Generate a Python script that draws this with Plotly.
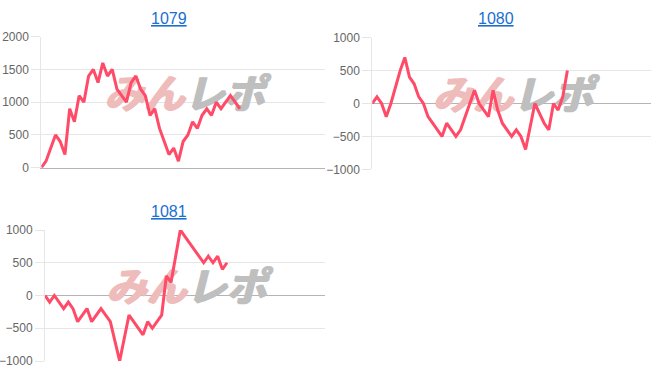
import plotly.graph_objects as go

# ---- data ----
titles = ["1079", "1080", "1081"]
values_1079 = [0, 100, 300, 500, 400, 200, 900, 700, 1100, 1000,
               1400, 1500, 1300, 1600, 1400, 1500, 1200, 1100, 1000, 1300,
               1400, 1200, 1100, 800, 900, 600, 400, 200, 300, 100,
               400, 500, 700, 600, 800, 900, 800, 1000, 900, 1000,
               1100, 1000, 900]
values_1080 = [0, 100, 0, -200, 0, 250, 500, 700, 400, 300,
               100, 0, -200, -300, -400, -500, -300, -400, -500, -400,
               -200, 0, 200, 0, -100, -200, 200, -100, -300, -400,
               -500, -400, -500, -700, -350, 0, -150, -300, -400, 0,
               -100, 100, 500]
values_1081 = [0, -100, 0, -100, -200, -100, -200, -400, -300, -200,
               -400, -300, -200, -300, -400, -700, -1000, -650, -300, -400,
               -500, -600, -400, -500, -400, -300, 300, 200, 600, 1000,
               900, 800, 700, 600, 500, 600, 500, 600, 400, 500]
n_slots = 61  # category slots on the x axis
y_ranges = [[0, 2000], [-1000, 1000], [-1000, 1000]]
y_dtick = 500
watermark = ["みん", "レポ"]

series = [values_1079, values_1080, values_1081]

W, H = 652, 382
LINE = "rgb(255,74,104)"
GRID = "#e6e6e6"
ZERO = "#b4b4b4"
TICKFONT = dict(family="Liberation Sans, Arial, sans-serif", size=12, color="#666666")
WM_COLORS = ["#efbcbc", "#bfbfbf"]

# plot areas in pixels (left, right, top, bottom)
areas = [(41.3, 325.0, 36.7, 167.7), (372.3, 651.0, 37.7, 169.3), (45.0, 325.0, 230.0, 361.0)]
title_pos = [(169, 18.5), (496, 18.5), (168.5, 211.5)]

fig = go.Figure()
annotations = []
for k, vals in enumerate(series):
    sx = "" if k == 0 else str(k + 1)
    l, r, t, b = areas[k]
    lo, hi = y_ranges[k]
    # watermark (drawn beneath the line), positioned from the axis extent
    xc = (n_slots - 1) / 2 + 0.3
    yc = lo + (hi - lo) * 0.535
    for j, part in enumerate(watermark):
        c = WM_COLORS[j]
        fig.add_trace(go.Scatter(
            x=[xc], y=[yc], mode="text", text=[part],
            textposition="middle left" if j == 0 else "middle right",
            textfont=dict(family="Noto Sans CJK JP", size=40, color=c,
                          weight="bold", style="italic",
                          shadow=f"1.5px 0px 0px {c}, -1px 0px 0px {c}, 0px 1px 0px {c}"),
            xaxis="x" + sx, yaxis="y" + sx, hoverinfo="skip", showlegend=False))
    fig.add_trace(go.Scatter(
        x=list(range(len(vals))), y=vals, mode="lines",
        line=dict(color=LINE, width=3), xaxis="x" + sx, yaxis="y" + sx,
        hoverinfo="skip", showlegend=False))
    xd = [l / W, r / W]
    yd = [1 - b / H, 1 - t / H]
    fig.update_layout(**{
        "xaxis" + sx: dict(domain=xd, range=[0, n_slots - 1], showgrid=False, zeroline=False,
                           showticklabels=False, ticks="", showline=(k == 0),
                           linecolor=ZERO, linewidth=1, anchor="y" + sx, fixedrange=True,
                           automargin=False),
        "yaxis" + sx: dict(domain=yd, range=y_ranges[k], dtick=y_dtick, tick0=0,
                           showgrid=True, gridcolor=GRID, gridwidth=1,
                           zeroline=(k != 0), zerolinecolor=ZERO, zerolinewidth=1,
                           showline=True, linecolor=GRID, linewidth=1,
                           ticks="outside", ticklen=9, tickcolor=GRID,
                           tickfont=TICKFONT, anchor="x" + sx, fixedrange=True,
                           automargin=False),
    })
    tx, ty = title_pos[k]
    annotations.append(dict(
        text=titles[k], x=tx / W, y=1 - ty / H, xref="paper", yref="paper",
        showarrow=False, xanchor="center", yanchor="middle",
        font=dict(family="Liberation Sans, Arial, sans-serif", size=16,
                  color="#1a6fd0", lineposition="under")))

fig.update_layout(width=W, height=H, margin=dict(l=0, r=0, t=0, b=0, autoexpand=False),
                  paper_bgcolor="white", plot_bgcolor="white",
                  annotations=annotations, showlegend=False)

fig.write_html("out.html", config={"displayModeBar": False})
